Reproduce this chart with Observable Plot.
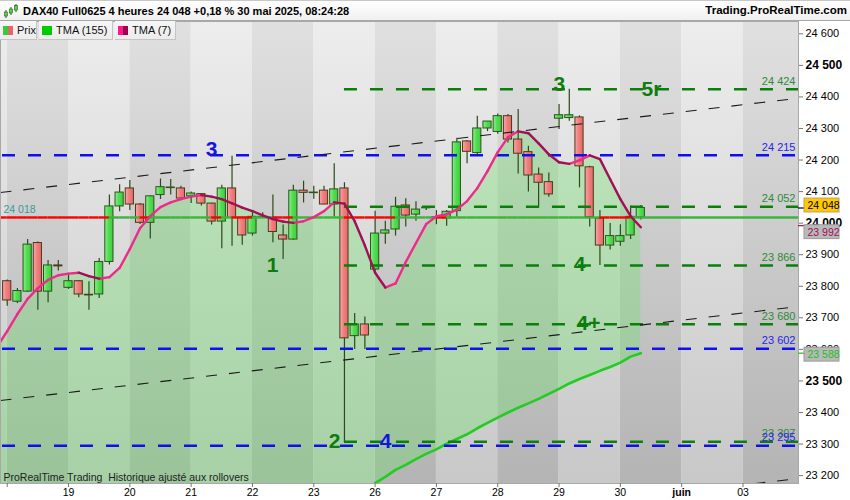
<!DOCTYPE html>
<html><head><meta charset="utf-8">
<script src="https://cdn.jsdelivr.net/npm/d3@7"></script>
<script src="https://cdn.jsdelivr.net/npm/@observablehq/plot@0.6"></script>
<style>
body{margin:0;background:#fff;font-family:"Liberation Sans",Arial,sans-serif;}
#wrap{position:relative;width:850px;height:500px;overflow:hidden;background:#fff;}
#top{position:absolute;left:0;top:0;width:850px;height:21px;box-sizing:border-box;border-top:1px solid #c8c8c8;border-bottom:1px solid #a8a8a8;background:linear-gradient(#ffffff,#f0f0f0);}
#top .t{position:absolute;left:23px;top:4px;font-weight:bold;font-size:11px;color:#000;white-space:nowrap;}
#top .r{position:absolute;right:3px;top:3px;font-weight:bold;font-size:11.5px;color:#000;white-space:nowrap;}
#top svg{position:absolute;left:3px;top:2px;}
#chart{position:absolute;left:0;top:21px;}
#legend{position:absolute;left:0;top:21px;height:19px;display:flex;z-index:2;}
#legend .it{height:19px;box-sizing:border-box;background:linear-gradient(#f6f6f6,#ececec);border-right:1px solid #c4c4c4;border-bottom:1px solid #c4c4c4;font-size:11px;color:#111;display:flex;align-items:center;padding-left:3px;margin-right:2px;}
#legend .sw{width:10px;height:9px;margin-right:4px;display:inline-block;}
</style></head>
<body>
<div id="wrap">
  <div id="top">
    <svg width="16" height="16" viewBox="0 0 16 16">
      <line x1="3" y1="7" x2="3" y2="15" stroke="#2c5a18"/><rect x="1.5" y="9" width="3" height="4" fill="#4cd84c" stroke="#2c5a18" stroke-width="0.6"/>
      <line x1="8" y1="4" x2="8" y2="12" stroke="#2c5a18"/><rect x="6.5" y="6" width="3" height="4" fill="#4cd84c" stroke="#2c5a18" stroke-width="0.6"/>
      <line x1="13" y1="1" x2="13" y2="9" stroke="#2c5a18"/><rect x="11.5" y="2.5" width="3" height="4.5" fill="#4cd84c" stroke="#2c5a18" stroke-width="0.6"/>
    </svg>
    <div class="t">DAX40 Full0625 4 heures 24 048 +0,18 % 30 mai 2025, 08:24:28</div>
    <div class="r">Trading.ProRealTime.com</div>
  </div>
  <div id="chart"></div>
  <div id="legend">
    <div class="it" style="width:37px"><span class="sw" style="background:linear-gradient(90deg,#3cc83c 50%,#e86464 50%)"></span>Prix</div>
    <div class="it" style="width:74px"><span class="sw" style="background:#00cc00"></span>TMA (155)</div>
    <div class="it" style="width:61px"><span class="sw" style="background:linear-gradient(90deg,#ff1a8c 50%,#a0004f 50%)"></span>TMA (7)</div>
  </div>
</div>
<script>
// ---------- data ----------
const opens  = [23816,23751,23783,23937,23783,23866,23795,23816,23773,23774,23877,24053,24110,24059,24001,24089,24111,24110,24085,24092,24062,24005,24110,24017,23967,24018,24017,23961,23948,24103,24095,24103,24059,24110,23642,23679,23853,23967,23980,24056,24027,24047,24019,24015,24038,24259,24222,24300,24289,24339,24265,24225,24154,24130,24331,24333,24335,24177,24014,23929,23941,23961,24018];
const highs  = [23820,23793,23948,23940,23882,23882,23838,23818,23814,23888,24089,24122,24135,24062,24086,24140,24138,24117,24099,24094,24063,24120,24212,24019,24033,24033,24089,23994,24120,24133,24117,24117,24188,24128,23714,23703,24038,24006,24082,24077,24068,24052,24040,24040,24269,24262,24339,24322,24346,24344,24360,24244,24175,24159,24376,24424,24340,24180,24040,23999,23995,24054,24056];
const lows   = [23737,23745,23780,23724,23748,23848,23790,23764,23724,23761,23867,24036,24040,23996,23950,24075,24089,24072,24062,24054,23994,23919,23927,23930,23959,24015,23938,23885,23946,24064,24076,24058,24019,23305,23600,23600,23845,23933,23959,23988,24006,24040,23995,23990,24019,24188,24215,24290,24282,24254,24156,24099,24048,24082,24297,24323,24112,23988,23866,23915,23927,23948,24010];
const closes = [23755,23785,23932,23783,23866,23863,23816,23774,23771,23877,24053,24097,24059,24001,24085,24114,24113,24078,24094,24062,24005,24110,24017,23961,24020,24020,23972,23948,24103,24096,24097,24059,24107,23635,23679,23644,23967,23977,24052,24024,24043,24049,24017,24036,24256,24226,24300,24322,24339,24265,24220,24151,24128,24091,24342,24342,24180,24019,23929,23959,23959,24020,24048];
const tma7 = [23658,23712,23760,23794,23820,23835,23840,23843,23832,23824,23829,23858,23918,23984,24022,24051,24066,24076,24084,24089,24084,24076,24063,24049,24038,24025,24013,24005,24001,24006,24019,24038,24066,24062,24006,23929,23843,23796,23809,23877,23937,23997,24022,24028,24043,24070,24111,24165,24225,24272,24291,24285,24253,24218,24193,24188,24199,24215,24203,24139,24076,24022,23987];
const tma7Lead = 23625;            // TMA(7) at the left edge of the chart
const tma155Start = 36;            // first bar where TMA(155) enters the chart
const tma155 = [23176,23196,23218,23234,23252,23269,23283,23301,23316,23331,23350,23367,23384,23400,23415,23429,23443,23459,23475,23492,23506,23519,23532,23544,23558,23577,23588];
const dayStarts = [-6,0,6,12,18,24,30,36,42,48,54,60,66,72,78];
const dayLabels = ["","","19","20","21","22","23","26","27","28","29","30","juin","03",""];
const refLevel = 24018;
const levelValues = [24424,24215,24052,23866,23680,23602,23307,23295];
const levelKinds  = ["g","b","g","g","g","b","g","b"];
const levelStartBar = 33;
const trendLeft  = [24097,23438,22893];
const trendRight = [24396,23736,23191];
const annoText = ["3","1","2","4","3","5r","4","4+"];
const annoBar  = [20.0,25.96,32.03,37.02,54.04,63.04,56.0,56.88];
const annoVal  = [24235,23867,23309,23309,24440,24425,23869,23683];
const annoKind = ["b","g","g","b","g","g","g","g"];
const lastValues = [24048,23992,23588];
const yTicks = [23200,23300,23400,23500,23600,23700,23800,23900,24000,24100,24200,24300,24400,24500,24600];
const yBoldTicks = [23500,24000,24500];
const footText = "ProRealTime Trading\u00a0 Historique ajusté aux rollovers";

// ---------- layout / style ----------
const X_MIN = -0.656, X_MAX = 77.43, Y_MIN = 23175, Y_MAX = 24639;
const GREEN = "#0a800a", BLUE = "#1010ee", TXT_G = "#2f8a3a", TXT_B = "#2424ee";
const fmt = d => d3.format(",")(d).replace(/,/g, " ");

const bars = opens.map((o, i) => ({i, o, h: highs[i], l: lows[i], c: closes[i]}));
const up = bars.filter(d => d.c >= d.o), down = bars.filter(d => d.c < d.o);

const bands = dayStarts.map((s, j) => ({s, e: s + 6, light: j % 2 === 0}));

const t7 = [{i: X_MIN, v: tma7Lead}, ...tma7.map((v, i) => ({i, v}))];
const t7segs = t7.slice(1).map((p, k) => ({x1: t7[k].i, y1: t7[k].v, x2: p.i, y2: p.v, up: p.v >= t7[k].v}));
const t155 = tma155.map((v, k) => ({i: tma155Start + k, v}));
const fillPts = t7.map(p => {
  const k = Math.round(p.i) - tma155Start;
  return {i: p.i, hi: p.v, lo: (k >= 0 && k < tma155.length && p.i >= 0) ? tma155[k] : Y_MIN};
});

const refSegs = [];
for (let i = -1; i < bars.length; i++) {
  const c = closes[Math.max(i, 0)];
  refSegs.push({x1: i < 0 ? X_MIN : i, x2: i < bars.length - 1 ? i + 1 : X_MAX, red: c < refLevel});
}

const levels = levelValues.map((v, k) => ({v, kind: levelKinds[k], label: fmt(v), x1: levelKinds[k] === "g" ? levelStartBar : X_MIN}));
const trends = trendLeft.map((a, k) => ({a, b: trendRight[k]}));
const annos = annoText.map((t, k) => ({t, i: annoBar[k], v: annoVal[k], kind: annoKind[k]}));

const boxes = [
  {v: lastValues[0], fill: "#ffc800", stroke: "#b8a060", text: "#000", tick: "#000", dy: -2.5},
  {v: lastValues[1], fill: "#b9b9b9", stroke: "#9a9a9a", text: "#a0105a", tick: "#a0105a", dy: 6.5},
  {v: lastValues[2], fill: "#b9b9b9", stroke: "#9a9a9a", text: "#1fbf1f", tick: "#1fbf1f", dy: 1.5}
];

const dayLabelOf = new Map(dayStarts.map((s, j) => [s, dayLabels[j]]));
const xTickNormal = dayStarts.filter(s => s >= 0 && s <= X_MAX && dayLabelOf.get(s) !== "juin");
const xTickBold = dayStarts.filter(s => dayLabelOf.get(s) === "juin");

const boxMarks = boxes.flatMap(b => [
  Plot.ruleY([b], {y: "v", stroke: b.tick, insetLeft: 798, insetRight: -6, strokeWidth: 1.2}),
  Plot.rect([b], {y1: d => d.v - 22, y2: d => d.v + 22, dy: b.dy, insetLeft: 804, insetRight: -41, fill: b.fill, stroke: b.stroke}),
  Plot.text([b], {y: "v", frameAnchor: "right", text: d => fmt(d.v), textAnchor: "start", dx: 9, dy: b.dy, fill: b.text, fontSize: 10.5})
]);

const marks = [
  Plot.rect(bands.filter(d => d.light), {x1: "s", x2: "e", fill: "url(#bgL)", clip: true}),
  Plot.rect(bands.filter(d => !d.light), {x1: "s", x2: "e", fill: "url(#bgD)", clip: true}),
  Plot.areaY(fillPts, {x: "i", y1: "lo", y2: "hi", fill: "rgb(100,228,100)", fillOpacity: 0.32, clip: true}),
  Plot.line(t155, {x: "i", y: "v", stroke: "#22cc22", strokeWidth: 2.6, clip: true}),
  Plot.ruleX(bars, {x: "i", y1: "l", y2: "h", stroke: "#2c4a18", strokeWidth: 1.2}),
  Plot.rect(up, {x1: d => d.i - 0.4, x2: d => d.i + 0.4, y1: "o", y2: "c", fill: "url(#gUp)", stroke: "#2b5518", strokeWidth: 1}),
  Plot.rect(down, {x1: d => d.i - 0.4, x2: d => d.i + 0.4, y1: "o", y2: "c", fill: "url(#gDn)", stroke: "#4a3a18", strokeWidth: 1}),
  Plot.ruleY(refSegs.filter(d => !d.red), {y: () => refLevel, x1: "x1", x2: "x2", stroke: "#3cb43c", strokeWidth: 2.4}),
  Plot.ruleY(refSegs.filter(d => d.red), {y: () => refLevel, x1: "x1", x2: "x2", stroke: "#ff0000", strokeWidth: 2.4}),
  Plot.text([refLevel], {x: () => X_MIN, y: d => d, text: d => fmt(d), textAnchor: "start", dx: 3, dy: -8, fill: "#3a9a9a", fontSize: 10.5}),
  Plot.ruleY(levels.filter(d => d.kind === "g"), {y: "v", x1: "x1", x2: () => X_MAX, stroke: GREEN, strokeWidth: 2.5, strokeDasharray: "13,13"}),
  Plot.ruleY(levels.filter(d => d.kind === "b"), {y: "v", x1: "x1", x2: () => X_MAX, stroke: BLUE, strokeWidth: 2.5, strokeDasharray: "13,13", strokeDashoffset: -2}),
  Plot.link(trends, {x1: () => X_MIN, y1: "a", x2: () => X_MAX, y2: "b", stroke: "#1a1a1a", strokeWidth: 1.1, strokeDasharray: "11,12", clip: true}),
  Plot.link(t7segs.filter(d => d.up), {x1: "x1", y1: "y1", x2: "x2", y2: "y2", stroke: "#ee2a8a", strokeWidth: 2.4, strokeLinecap: "round", clip: true}),
  Plot.link(t7segs.filter(d => !d.up), {x1: "x1", y1: "y1", x2: "x2", y2: "y2", stroke: "#9e1155", strokeWidth: 2.4, strokeLinecap: "round", clip: true}),
  Plot.text(levels.filter(d => d.kind === "g"), {x: () => X_MAX, y: "v", text: "label", textAnchor: "end", dx: -3, dy: -8, fill: TXT_G, fontSize: 11}),
  Plot.text(levels.filter(d => d.kind === "b"), {x: () => X_MAX, y: "v", text: "label", textAnchor: "end", dx: -3, dy: -8, fill: TXT_B, fontSize: 11}),
  Plot.text(annos.filter(d => d.kind === "g"), {x: "i", y: "v", text: "t", fill: "#0e7c0e", fontSize: 21, fontWeight: "bold"}),
  Plot.text(annos.filter(d => d.kind === "b"), {x: "i", y: "v", text: "t", fill: "#1515e0", fontSize: 21, fontWeight: "bold"}),
  Plot.text([footText], {frameAnchor: "bottom-left", text: d => d, dx: 3, dy: -3, fontSize: 10.5, fill: "#222"}),
  Plot.frame({stroke: "#a8a8a8"}),
  Plot.axisY({anchor: "right", ticks: yTicks.filter(t => !yBoldTicks.includes(t)), tickFormat: fmt, tickSize: 4, tickPadding: 3, fontSize: 11, stroke: "#777", label: null}),
  Plot.axisY({anchor: "right", ticks: yBoldTicks, tickFormat: fmt, tickSize: 4, tickPadding: 3, fontSize: 12, fontWeight: "bold", stroke: "#777", label: null}),
  Plot.axisX({anchor: "bottom", ticks: xTickNormal, tickFormat: d => dayLabelOf.get(d), tickSize: 4, tickPadding: 1, fontSize: 10.5, stroke: "#777", label: null}),
  Plot.axisX({anchor: "bottom", ticks: xTickBold, tickFormat: d => dayLabelOf.get(d), tickSize: 4, tickPadding: 1, fontSize: 10.5, fontWeight: "bold", stroke: "#777", label: null}),
  ...boxMarks
];

const chart = Plot.plot({
  width: 850, height: 479,
  marginTop: 0, marginBottom: 17, marginLeft: 0, marginRight: 52,
  x: {domain: [X_MIN, X_MAX], axis: null},
  y: {domain: [Y_MIN, Y_MAX], axis: null},
  style: {background: "transparent", fontFamily: "'Liberation Sans', Arial, sans-serif", color: "#000", overflow: "visible"},
  marks
});

// gradients referenced by the marks
const svg = d3.select(chart);
const defs = svg.insert("defs", ":first-child");
function grad(id, horizontal, stops) {
  const g = defs.append("linearGradient").attr("id", id)
    .attr("x1", 0).attr("y1", 0).attr("x2", horizontal ? 1 : 0).attr("y2", horizontal ? 0 : 1);
  stops.forEach(([o, c]) => g.append("stop").attr("offset", o).attr("stop-color", c));
}
grad("bgL", false, [[0, "#ededed"], [1, "#c8c8c8"]]);
grad("bgD", false, [[0, "#e0e0e0"], [1, "#b4b4b4"]]);
grad("gUp", true, [[0, "#8ef08e"], [0.45, "#55dc55"], [1, "#3ccf3c"]]);
grad("gDn", true, [[0, "#f7aaaa"], [0.45, "#f08080"], [1, "#e86868"]]);

document.getElementById("chart").appendChild(chart);
</script>
</body></html>
